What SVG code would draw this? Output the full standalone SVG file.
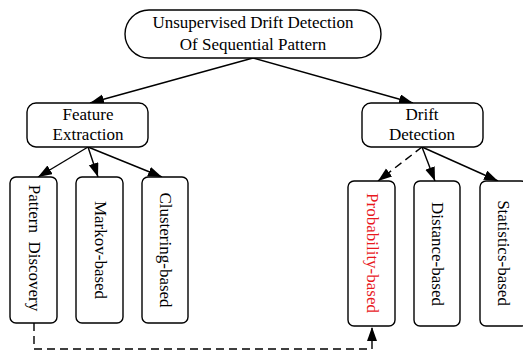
<svg xmlns="http://www.w3.org/2000/svg" width="523" height="352" viewBox="0 0 523 352">
<style>
.box{fill:#fff;stroke:#000;stroke-width:1.4}
.t{font-family:"Liberation Serif","Times New Roman",serif;font-size:17px;fill:#000;text-anchor:middle}
.v{font-family:"Liberation Serif","Times New Roman",serif;font-size:17px;fill:#000;text-anchor:middle;dominant-baseline:central}
.red{fill:#e8191e}
.e{fill:none;stroke:#000;stroke-width:1.4}
.d{stroke-dasharray:8,5}
</style>
<defs>
<marker id="ah" markerUnits="userSpaceOnUse" markerWidth="15" markerHeight="11" refX="14" refY="5" orient="auto">
<path d="M0,0 L14,5 L0,10 z" fill="#000"/>
</marker>
</defs>
<g id="connectors">
<line class="e" x1="253" y1="58" x2="90" y2="103" marker-end="url(#ah)"/>
<line class="e" x1="253" y1="58" x2="413" y2="103" marker-end="url(#ah)"/>
<line class="e" x1="88" y1="147" x2="38" y2="177" marker-end="url(#ah)"/>
<line class="e" x1="88" y1="147" x2="98" y2="177" marker-end="url(#ah)"/>
<line class="e" x1="88" y1="147" x2="162" y2="177" marker-end="url(#ah)"/>
<line class="e d" x1="422" y1="147" x2="378" y2="181" marker-end="url(#ah)"/>
<line class="e" x1="422" y1="147" x2="435" y2="181" marker-end="url(#ah)"/>
<line class="e" x1="422" y1="147" x2="498" y2="181" marker-end="url(#ah)"/>
<polyline class="e d" points="34,323 34,349 372,349 372,327" marker-end="url(#ah)"/>
</g>
<g id="root">
<rect class="box" x="125" y="10" width="256" height="48" rx="24"/>
<text class="t" x="253" y="28">Unsupervised Drift Detection</text>
<text class="t" x="253" y="50">Of Sequential Pattern</text>
</g>
<g id="feature-extraction">
<rect class="box" x="27" y="103" width="121" height="44" rx="9"/>
<text class="t" x="88" y="120">Feature</text>
<text class="t" x="88" y="140">Extraction</text>
</g>
<g id="drift-detection">
<rect class="box" x="362" y="103" width="121" height="44" rx="9"/>
<text class="t" x="422" y="120">Drift</text>
<text class="t" x="422" y="140">Detection</text>
</g>
<g id="pattern-discovery">
<rect class="box" x="10" y="177" width="47" height="146" rx="6"/>
<text class="v" transform="translate(34,248) rotate(90)" xml:space="preserve">Pattern  Discovery</text>
</g>
<g id="markov-based">
<rect class="box" x="76" y="177" width="47" height="146" rx="6"/>
<text class="v" transform="translate(100,250) rotate(90)">Markov-based</text>
</g>
<g id="clustering-based">
<rect class="box" x="142" y="177" width="46" height="146" rx="6"/>
<text class="v" transform="translate(165,250) rotate(90)">Clustering-based</text>
</g>
<g id="probability-based">
<rect class="box" x="348" y="181" width="47" height="145" rx="6"/>
<text class="v red" transform="translate(372,253) rotate(90)">Probability-based</text>
</g>
<g id="distance-based">
<rect class="box" x="414" y="181" width="46" height="145" rx="6"/>
<text class="v" transform="translate(437,254) rotate(90)">Distance-based</text>
</g>
<g id="statistics-based">
<rect class="box" x="480" y="181" width="47" height="145" rx="6"/>
<text class="v" transform="translate(503,253) rotate(90)">Statistics-based</text>
</g>
</svg>
